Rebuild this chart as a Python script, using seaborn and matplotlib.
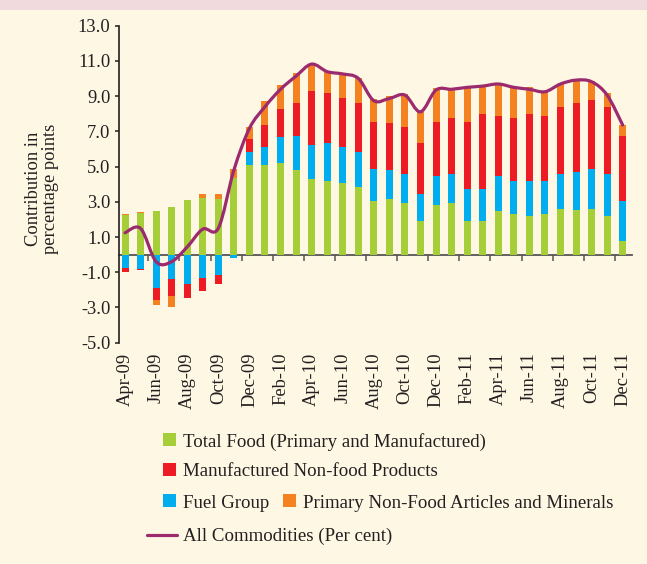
import numpy as np
import pandas as pd
import matplotlib
matplotlib.use("Agg")
import matplotlib.pyplot as plt
import seaborn as sns
from matplotlib.path import Path
from matplotlib.patches import PathPatch, Rectangle, Patch
from matplotlib.lines import Line2D

months = ["Apr-09", "May-09", "Jun-09", "Jul-09", "Aug-09", "Sep-09", "Oct-09", "Nov-09", "Dec-09",
          "Jan-10", "Feb-10", "Mar-10", "Apr-10", "May-10", "Jun-10", "Jul-10", "Aug-10", "Sep-10",
          "Oct-10", "Nov-10", "Dec-10",
          "Jan-11", "Feb-11", "Mar-11", "Apr-11", "May-11", "Jun-11", "Jul-11", "Aug-11", "Sep-11",
          "Oct-11", "Nov-11", "Dec-11"]

food = [2.24, 2.34, 2.49, 2.68, 3.10, 3.23, 3.14, 4.38, 5.09,
        5.09, 5.20, 4.78, 4.29, 4.18, 4.06, 3.84, 3.02, 3.14, 2.93, 1.90, 2.81,
        2.93, 1.90, 1.90, 2.49, 2.30, 2.20, 2.30, 2.60, 2.51, 2.60, 2.20, 0.77]
fuel = [-0.73, -0.82, -1.87, -1.41, -1.68, -1.32, -1.13, -0.18, 0.72,
        1.02, 1.46, 1.95, 1.93, 2.16, 2.07, 1.98, 1.86, 1.66, 1.64, 1.54, 1.67,
        1.64, 1.84, 1.84, 1.99, 1.88, 1.98, 1.88, 1.97, 2.16, 2.28, 2.37, 2.27]
manuf = [-0.28, -0.08, -0.68, -0.95, -0.77, -0.74, -0.51, 0.0, 0.74,
         1.25, 1.62, 1.86, 3.09, 2.85, 2.78, 2.77, 2.67, 2.65, 2.69, 2.88, 3.07,
         3.20, 3.81, 4.23, 3.41, 3.59, 3.79, 3.71, 3.83, 3.92, 3.90, 3.83, 3.71]
primary = [0.08, 0.07, -0.32, -0.61, 0.0, 0.19, 0.28, 0.48, 0.71,
           1.34, 1.35, 1.71, 1.46, 1.24, 1.29, 1.46, 1.27, 1.56, 1.86, 1.79, 1.89,
           1.58, 1.89, 1.60, 1.80, 1.67, 1.53, 1.36, 1.29, 1.27, 1.08, 0.76, 0.61]
all_commodities = [1.24, 1.49, -0.40, -0.40, 0.44, 1.45, 1.50, 4.80, 7.17,
                   8.40, 9.39, 10.14, 10.82, 10.39, 10.26, 10.01, 8.74, 8.87, 9.06, 8.11, 9.35,
                   9.39, 9.50, 9.57, 9.69, 9.50, 9.39, 9.25, 9.69, 9.91, 9.82, 9.06, 7.36]

series_names = ["Total Food (Primary and Manufactured)", "Fuel Group",
                "Manufactured Non-food Products", "Primary Non-Food Articles and Minerals"]
line_name = "All Commodities (Per cent)"
yticks = [-5, -3, -1, 1, 3, 5, 7, 9, 11, 13]

colors = {
    series_names[0]: "#A6CE39",
    series_names[1]: "#00AEEF",
    series_names[2]: "#ED1C24",
    series_names[3]: "#F58220",
}
line_color = "#9B2A6E"
bg = "#FEF7E4"
ink = "#231F20"

sns.set_theme(style="ticks")
plt.rcParams["font.family"] = ["Liberation Serif", "DejaVu Serif"]

df = pd.DataFrame({"month": months, series_names[0]: food, series_names[1]: fuel,
                   series_names[2]: manuf, series_names[3]: primary, line_name: all_commodities})

W, H = 647, 564
fig = plt.figure(figsize=(W / 100, H / 100), dpi=100, facecolor=bg)
fig.patches.append(Rectangle((0, 1 - 10 / H), 1, 10 / H, transform=fig.transFigure,
                             facecolor="#F0DADE", edgecolor="none", zorder=0))

ax_left, ax_right, ax_top, ax_bot = 118.8, 632, 25.7, 342.7
ax = fig.add_axes([ax_left / W, 1 - ax_bot / H, (ax_right - ax_left) / W, (ax_bot - ax_top) / H])
ax.set_facecolor(bg)

x = np.arange(len(months))
pos_bottom = np.zeros(len(months))
neg_bottom = np.zeros(len(months))
bw = 0.45
for name in series_names:
    vals = df[name].to_numpy()
    pos = np.where(vals > 0, vals, 0)
    neg = np.where(vals < 0, vals, 0)
    ax.bar(x, pos, bw, bottom=pos_bottom, color=colors[name], linewidth=0, zorder=2)
    ax.bar(x, neg, bw, bottom=neg_bottom, color=colors[name], linewidth=0, zorder=2)
    pos_bottom += pos
    neg_bottom += neg

# smooth line through monthly values (Catmull-Rom Bezier rendering)
yv = df[line_name].to_numpy()
pts = np.column_stack([x, yv])
ext = np.vstack([pts[0], pts, pts[-1]])
verts = [tuple(pts[0])]
codes = [Path.MOVETO]
for i in range(len(pts) - 1):
    p0, p1, p2, p3 = ext[i], ext[i + 1], ext[i + 2], ext[i + 3]
    c1 = p1 + (p2 - p0) / 6.0
    c2 = p2 - (p3 - p1) / 6.0
    verts += [tuple(c1), tuple(c2), tuple(p2)]
    codes += [Path.CURVE4] * 3
ax.add_patch(PathPatch(Path(verts, codes), facecolor="none", edgecolor=line_color,
                       lw=2.3, transform=ax.transData, zorder=4, capstyle="round"))

ax.set_xlim(-0.4, 32.6)
ax.set_ylim(-5, 13)
ax.set_yticks(yticks)
ax.set_yticklabels([f"{v:.1f}" for v in yticks])
ax.set_xticks(x[::2])
ax.set_xticklabels(months[::2], rotation=90)
ax.tick_params(axis="x", length=0, pad=7, labelsize=13.3, labelcolor=ink)
ax.tick_params(axis="y", length=3, width=1.1, color=ink, pad=3, labelsize=13.3, labelcolor=ink)
for s in ["top", "right", "bottom"]:
    ax.spines[s].set_visible(False)
ax.spines["left"].set_color(ink)
ax.spines["left"].set_linewidth(1.2)

sec = ax.secondary_xaxis(5 / 18)
sec.set_xticks(np.arange(1.5, 32, 2))
sec.set_xticklabels([])
sec.tick_params(axis="x", length=4, width=1.1, color="#555555", direction="out")
sec.spines["bottom"].set_color("#555555")
sec.spines["bottom"].set_linewidth(1.3)

fig.text(42 / W, 1 - 189 / H, "Contribution in\npercentage points", rotation=90,
         ha="center", va="center", fontsize=13.3, color=ink, linespacing=0.95)

fs = 13.6
def sq_legend(name, xpx, ypx):
    fig.legend(handles=[Patch(facecolor=colors[name], edgecolor="none", label=name)],
               loc="center left", bbox_to_anchor=(xpx / W, 1 - ypx / H), frameon=False,
               borderpad=0, borderaxespad=0, handlelength=0.68, handleheight=0.68,
               handletextpad=0.38, fontsize=fs, labelcolor=ink)

sq_legend(series_names[0], 163, 441.7)
sq_legend(series_names[2], 163, 471.7)
sq_legend(series_names[1], 163, 503)
sq_legend(series_names[3], 283, 503)
fig.legend(handles=[Line2D([0], [0], color=line_color, lw=2.3, label=line_name)],
           loc="center left", bbox_to_anchor=(147 / W, 1 - 536.7 / H), frameon=False,
           borderpad=0, borderaxespad=0, handlelength=1.6, handletextpad=0.33,
           fontsize=fs, labelcolor=ink)

fig.savefig("out.png", dpi=100, facecolor=bg)
